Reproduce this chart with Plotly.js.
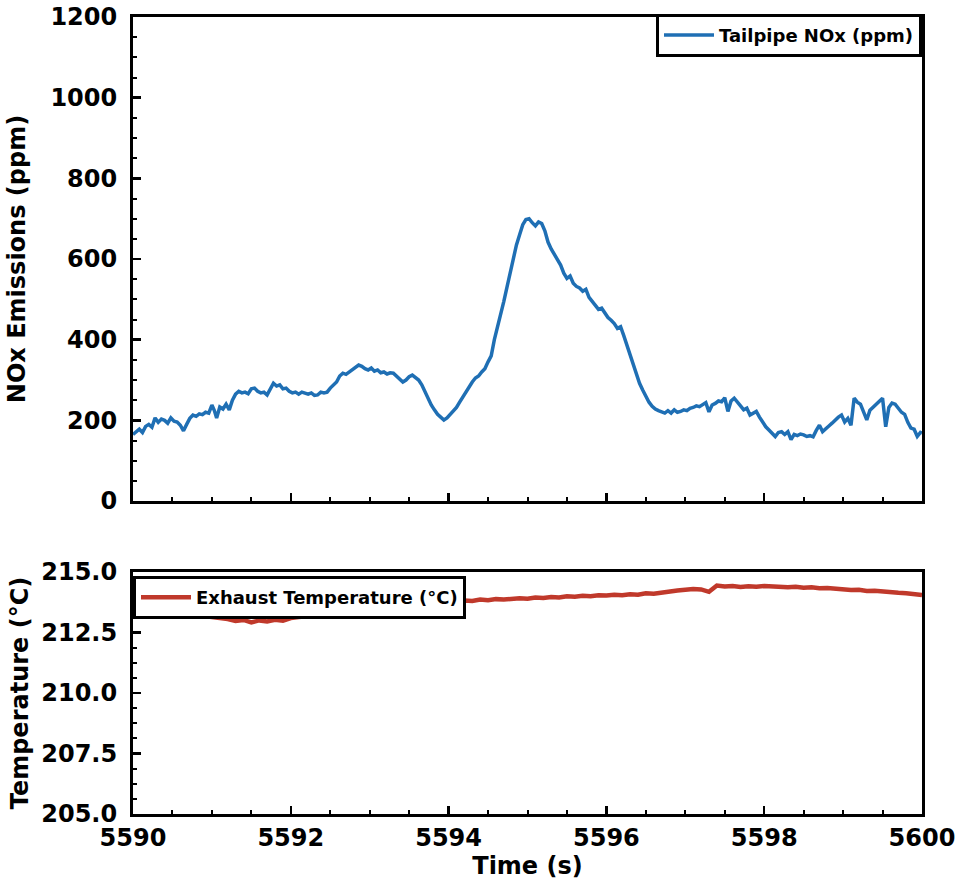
<!DOCTYPE html>
<html>
<head>
<meta charset="utf-8">
<script src="https://cdn.plot.ly/plotly-3.0.1.min.js"></script>
<style>html,body{margin:0;padding:0;background:#fff;}#chart{width:963px;height:885px;}</style>
</head>
<body>
<div id="chart"></div>
<script>
// NOx emissions (ppm) vs time (s)
const noxTime = [
5590.00,5590.04,5590.08,5590.12,5590.16,5590.20,5590.24,5590.28,5590.32,5590.36,
5590.40,5590.44,5590.48,5590.52,5590.56,5590.60,5590.64,5590.68,5590.72,5590.76,
5590.80,5590.84,5590.88,5590.92,5590.96,5591.00,5591.03,5591.06,5591.10,5591.14,
5591.18,5591.22,5591.26,5591.30,5591.34,5591.38,5591.42,5591.46,5591.50,5591.54,
5591.58,5591.62,5591.66,5591.70,5591.74,5591.78,5591.82,5591.86,5591.90,5591.94,
5591.98,5592.02,5592.06,5592.10,5592.14,5592.18,5592.22,5592.26,5592.30,5592.34,
5592.38,5592.42,5592.46,5592.50,5592.54,5592.58,5592.62,5592.66,5592.70,5592.74,
5592.78,5592.82,5592.86,5592.90,5592.94,5592.98,5593.02,5593.06,5593.10,5593.14,
5593.18,5593.22,5593.26,5593.30,5593.34,5593.38,5593.42,5593.46,5593.50,5593.54,
5593.58,5593.62,5593.66,5593.70,5593.74,5593.78,5593.82,5593.86,5593.90,5593.94,
5593.98,5594.02,5594.06,5594.10,5594.14,5594.18,5594.22,5594.26,5594.30,5594.34,
5594.38,5594.42,5594.46,5594.50,5594.54,5594.58,5594.62,5594.66,5594.70,5594.74,
5594.78,5594.82,5594.86,5594.90,5594.94,5594.98,5595.02,5595.06,5595.10,5595.14,
5595.18,5595.22,5595.26,5595.30,5595.34,5595.38,5595.42,5595.46,5595.50,5595.54,
5595.58,5595.62,5595.66,5595.70,5595.74,5595.78,5595.82,5595.86,5595.90,5595.94,
5595.98,5596.02,5596.06,5596.10,5596.14,5596.18,5596.22,5596.26,5596.30,5596.34,
5596.38,5596.42,5596.46,5596.50,5596.54,5596.58,5596.62,5596.66,5596.70,5596.74,
5596.78,5596.82,5596.86,5596.90,5596.94,5596.98,5597.02,5597.06,5597.10,5597.14,
5597.18,5597.22,5597.26,5597.30,5597.34,5597.38,5597.42,5597.46,5597.50,5597.54,
5597.58,5597.62,5597.66,5597.70,5597.74,5597.78,5597.82,5597.86,5597.90,5597.94,
5597.98,5598.02,5598.06,5598.10,5598.14,5598.18,5598.22,5598.26,5598.30,5598.34,
5598.38,5598.42,5598.46,5598.50,5598.54,5598.58,5598.62,5598.66,5598.70,5598.74,
5598.78,5598.82,5598.86,5598.90,5598.94,5598.98,5599.02,5599.06,5599.10,5599.14,
5599.18,5599.22,5599.26,5599.30,5599.34,5599.38,5599.42,5599.46,5599.50,5599.54,
5599.58,5599.62,5599.66,5599.70,5599.74,5599.78,5599.82,5599.86,5599.90,5599.94,
5599.98,5600.00
];
const noxPpm = [
165,172,178,170,185,190,183,206,195,203,
200,193,206,198,196,188,174,190,205,213,
210,216,214,220,218,238,225,206,233,228,
240,226,250,265,272,268,270,266,278,280,
272,268,270,263,280,292,285,288,278,280,
272,268,270,265,270,268,265,268,262,263,
270,268,270,280,288,295,310,317,314,320,
325,330,337,334,328,325,330,322,325,318,
320,315,318,317,310,303,295,300,308,312,
306,300,288,270,255,238,226,215,208,201,
206,214,221,232,245,258,270,282,295,305,
310,320,328,345,360,400,430,465,495,530,
565,600,635,660,685,698,700,690,682,692,
688,670,642,625,612,598,585,565,552,558,
540,532,528,520,525,505,495,488,475,478,
466,455,448,440,428,432,410,385,360,335,
310,292,275,260,245,235,228,224,222,218,
224,218,226,220,222,226,224,230,232,236,
234,240,244,221,238,242,248,246,256,222,
248,255,244,236,226,230,213,218,222,208,
195,184,176,168,160,170,172,165,172,152,
165,162,166,164,160,162,159,175,188,172,
178,186,193,202,208,213,196,205,188,255,
245,240,220,201,225,233,240,248,255,184,
232,243,240,230,220,215,195,181,178,160,
170,168
];

// Exhaust temperature (°C) vs time (s)
const tempTime = [
5590.0,5590.1,5590.2,5590.3,5590.4,5590.5,5590.6,5590.7,5590.8,5590.9,
5591.0,5591.1,5591.2,5591.3,5591.4,5591.5,5591.6,5591.7,5591.8,5591.9,
5592.0,5592.1,5592.2,5592.3,5592.4,5592.5,5592.6,5592.7,5592.8,5592.9,
5593.0,5593.1,5593.2,5593.3,5593.4,5593.5,5593.6,5593.7,5593.8,5593.9,
5594.0,5594.1,5594.2,5594.3,5594.4,5594.5,5594.6,5594.7,5594.8,5594.9,
5595.0,5595.1,5595.2,5595.3,5595.4,5595.5,5595.6,5595.7,5595.8,5595.9,
5596.0,5596.1,5596.2,5596.3,5596.4,5596.5,5596.6,5596.7,5596.8,5596.9,
5597.0,5597.1,5597.2,5597.3,5597.4,5597.5,5597.6,5597.7,5597.8,5597.9,
5598.0,5598.1,5598.2,5598.3,5598.4,5598.5,5598.6,5598.7,5598.8,5598.9,
5599.0,5599.1,5599.2,5599.3,5599.4,5599.5,5599.6,5599.7,5599.8,5599.9,
5600.0
];
const tempC = [
213.32,213.28,213.30,213.26,213.27,213.22,213.24,213.20,213.22,213.18,
213.16,213.10,213.06,212.98,213.02,212.92,213.00,212.96,213.03,212.99,
213.10,213.14,213.18,213.22,213.26,213.30,213.33,213.36,213.40,213.43,
213.46,213.49,213.52,213.55,213.58,213.62,213.65,213.68,213.71,213.74,
213.76,213.79,213.82,213.80,213.86,213.83,213.88,213.86,213.90,213.92,
213.90,213.95,213.93,213.97,213.95,214.00,213.98,214.02,214.00,214.04,
214.03,214.06,214.04,214.08,214.06,214.12,214.10,214.16,214.20,214.24,
214.27,214.30,214.28,214.18,214.44,214.40,214.42,214.38,214.41,214.39,
214.42,214.40,214.41,214.37,214.39,214.35,214.37,214.33,214.34,214.30,
214.30,214.26,214.27,214.22,214.23,214.19,214.17,214.14,214.12,214.09,
214.05
];

const noxTicks = [0, 200, 400, 600, 800, 1000, 1200];
const tempTicks = [205.0, 207.5, 210.0, 212.5, 215.0];
const timeTicks = [5590, 5592, 5594, 5596, 5598, 5600];

const FONT = 'DejaVu Sans, Liberation Sans, sans-serif';
const bold = (size) => ({family: FONT, size: size, color: '#000', weight: 'bold'});

const axisCommon = {
  showline: true, linecolor: '#000', linewidth: 3, mirror: true,
  ticks: 'inside', ticklen: 8, tickwidth: 2.5, tickcolor: '#000',
  showgrid: false, zeroline: false, tickfont: bold(24)
};

const traces = [
  {x: noxTime, y: noxPpm, type: 'scatter', mode: 'lines', name: 'Tailpipe NOx (ppm)',
   line: {color: '#1f6fb4', width: 3.5}, xaxis: 'x', yaxis: 'y', legend: 'legend'},
  {x: tempTime, y: tempC, type: 'scatter', mode: 'lines', name: 'Exhaust Temperature (°C)',
   line: {color: '#c0392b', width: 4.5}, xaxis: 'x2', yaxis: 'y2', legend: 'legend2'}
];

const layout = {
  width: 963, height: 885,
  margin: {l: 133, r: 41, t: 17, b: 71},
  paper_bgcolor: '#fff', plot_bgcolor: '#fff',
  font: bold(18),
  showlegend: true,
  xaxis: Object.assign({}, axisCommon, {
    domain: [0, 1], anchor: 'y', range: [5590, 5600], tickvals: timeTicks,
    showticklabels: false,
    minor: {dtick: 0.5, ticks: 'inside', ticklen: 4, tickwidth: 2, tickcolor: '#000', showgrid: false}
  }),
  yaxis: Object.assign({}, axisCommon, {
    domain: [0.3927, 1], anchor: 'x', range: [0, 1200], tickvals: noxTicks,
    ticklabelstandoff: 8,
    title: {text: 'NOx Emissions (ppm)', font: bold(24), standoff: 18},
    minor: {dtick: 50, ticks: 'inside', ticklen: 4, tickwidth: 2, tickcolor: '#000', showgrid: false}
  }),
  xaxis2: Object.assign({}, axisCommon, {
    domain: [0, 1], anchor: 'y2', range: [5590, 5600], tickvals: timeTicks,
    ticklabelstandoff: 0,
    title: {text: 'Time (s)', font: bold(24), standoff: 6},
    minor: {dtick: 0.5, ticks: 'inside', ticklen: 4, tickwidth: 2, tickcolor: '#000', showgrid: false}
  }),
  yaxis2: Object.assign({}, axisCommon, {
    domain: [0, 0.3036], anchor: 'x2', range: [205, 215], tickvals: tempTicks,
    tickformat: '.1f', ticklabelstandoff: 8,
    title: {text: 'Temperature (°C)', font: bold(24), standoff: 6},
    minor: {dtick: 0.625, ticks: 'inside', ticklen: 4, tickwidth: 2, tickcolor: '#000', showgrid: false}
  }),
  legend: {
    x: 1, xanchor: 'right', y: 1.004, yanchor: 'top', xref: 'paper', yref: 'paper',
    bgcolor: '#fff', bordercolor: '#000', borderwidth: 3,
    font: bold(18), itemwidth: 50
  },
  legend2: {
    x: 0, xanchor: 'left', y: 0.2985, yanchor: 'top', xref: 'paper', yref: 'paper',
    bgcolor: '#fff', bordercolor: '#000', borderwidth: 3,
    font: bold(18), itemwidth: 50
  }
};

Plotly.newPlot('chart', traces, layout, {displayModeBar: false, staticPlot: true});
</script>
</body>
</html>
